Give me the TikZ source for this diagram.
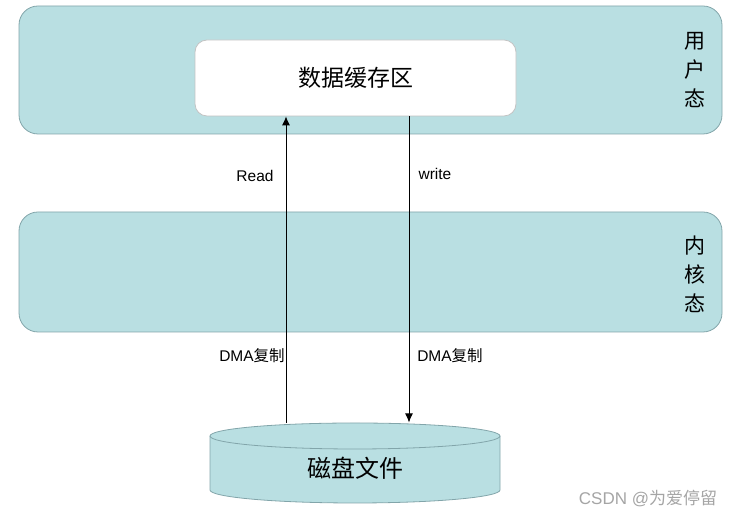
\documentclass[tikz,border=0pt]{standalone}
\usepackage{fontspec}
\setmainfont{Liberation Sans}
\newfontfamily\cjk{Noto Sans CJK SC}
\usetikzlibrary{arrows.meta}

\definecolor{bandfill}{RGB}{185,223,226}
\definecolor{bandline}{RGB}{130,165,170}
\definecolor{boxline}{RGB}{195,195,195}
\definecolor{markgray}{RGB}{165,165,165}

\tikzset{
    band/.style={draw=bandline, fill=bandfill, rounded corners=19pt, line width=0.8pt,
        minimum width=703pt},
    bufbox/.style={draw=boxline, fill=white, rounded corners=12pt, line width=0.8pt,
        minimum width=321pt, minimum height=76pt, font=\cjk\fontsize{23}{26}\selectfont},
    side/.style={align=center, font=\cjk\fontsize{21}{29}\selectfont},
    lbl/.style={font=\fontsize{15.5}{18}\selectfont},
    arr/.style={line width=0.9pt, -{Latex[length=9pt, width=8pt]}}
}

\begin{document}
\begin{tikzpicture}[x=1pt, y=1pt]
        \useasboundingbox (0, 0) rectangle (737, 518);
        % user space and kernel space
        \node[band, minimum height=128pt] (user) at (370.5, 448) {};
        \node[band, minimum height=120pt] (kernel) at (370.5, 246) {};
        \node[side] (usertxt) at (695, 448) {用\\户\\态};
        \node[side] (kerneltxt) at (695, 244) {内\\核\\态};
        \node[bufbox] (buf) at (355.5, 440) {数据缓存区};

        % disk
        \draw[draw=bandline, fill=bandfill, line width=0.8pt] (210, 82) -- (210, 28)
            arc[start angle = 180, end angle = 360, x radius = 145pt, y radius = 13pt]
            -- (500, 82) arc[start angle = 0, end angle = 180, x radius = 145pt, y radius = 13pt];
        \draw[draw=bandline, line width=0.8pt] (210, 82)
            arc[start angle = 180, end angle = 360, x radius = 145pt, y radius = 13pt];
        \node[font=\cjk\fontsize{24}{28}\selectfont] (disk) at (355, 50) {磁盘文件};

        % copies
        \coordinate (rd) at (286, 95);
        \coordinate (wr) at (409, 95.5);
        \draw[arr] (rd) -- (rd |- buf.south);
        \draw[arr] (wr |- buf.south) -- (wr);
        \node[lbl] (readtxt) at (255, 342) {Read};
        \node[lbl] (writetxt) at (435, 344) {write};
        \node[lbl] (dmaleft) at (252, 162) {DMA{\cjk 复制}};
        \node[lbl] (dmaright) at (450, 162) {DMA{\cjk 复制}};

        \node[font=\fontsize{17}{20}\selectfont, text=markgray] (mark) at (648, 20) {CSDN @{\cjk 为爱停留}};
    \end{tikzpicture}
\end{document}
